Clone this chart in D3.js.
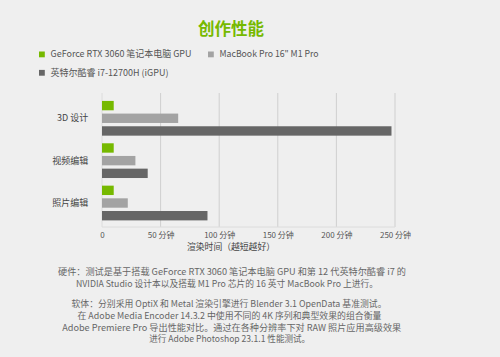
<!DOCTYPE html>
<html><head><meta charset="utf-8">
<script src="https://cdn.jsdelivr.net/npm/d3@7"></script>
<style>
html,body{margin:0;padding:0;background:#efefef;}
svg{display:block;font-family:"Noto Sans CJK SC","Noto Sans",sans-serif;}
</style></head><body>
<svg id="c" width="500" height="357"></svg>
<script>
const categories = ["3D 设计", "视频编辑", "照片编辑"];
const seriesNames = ["GeForce RTX 3060 笔记本电脑 GPU", "MacBook Pro 16\" M1 Pro", "英特尔酷睿 i7-12700H (iGPU)"];
const rtx3060 = [10, 10, 10];
const m1pro = [65, 28.5, 22];
const i7igpu = [247, 39, 90];
const tickValues = [0, 50, 100, 150, 200, 250];
const tickLabels = ["0", "50 分钟", "100 分钟", "150 分钟", "200 分钟", "250 分钟"];
const colors = ["#76b900", "#a3a3a3", "#666666"];
const footnotes = [
  "硬件：测试是基于搭载 GeForce RTX 3060 笔记本电脑 GPU 和第 12 代英特尔酷睿 i7 的",
  "NVIDIA Studio 设计本以及搭载 M1 Pro 芯片的 16 英寸 MacBook Pro 上进行。",
  "软体：分别采用 OptiX 和 Metal 渲染引擎进行 Blender 3.1 OpenData 基准测试。",
  "在 Adobe Media Encoder 14.3.2 中使用不同的 4K 序列和典型效果的组合衡量",
  "Adobe Premiere Pro 导出性能对比。通过在各种分辨率下对 RAW 照片应用高级效果",
  "进行 Adobe Photoshop 23.1.1 性能测试。"
];

const series = [rtx3060, m1pro, i7igpu];
const svg = d3.select("#c");

// title
svg.append("text").attr("x", 231).attr("y", 29).attr("dy", "0.36em").attr("text-anchor", "middle")
  .attr("font-size", 16.5).attr("font-weight", "bold").attr("fill", "#76b900").text("创作性能");

// legend
const legendPos = [[39, 54.3], [208, 54.3], [39, 72.7]];
const legendW = [141, 99, 118];
seriesNames.forEach((n, i) => {
  const g = svg.append("g").attr("transform", `translate(${legendPos[i][0]},${legendPos[i][1]})`);
  g.append("rect").attr("x", 0).attr("y", -2.8).attr("width", 5.8).attr("height", 5.8).attr("fill", colors[i]);
  g.append("text").attr("x", 11.5).attr("y", 0).attr("dy", "0.35em").attr("font-size", 9)
    .attr("textLength", legendW[i]).attr("lengthAdjust", "spacingAndGlyphs")
    .attr("fill", "#555").text(n);
});

const x = d3.scaleLinear().domain([0, 250]).range([102, 395]);
const y = d3.scaleBand().domain(categories).range([97.1, 224.2]).paddingInner(0.18).paddingOuter(0.09);
const ySub = d3.scaleBand().domain([0, 1, 2]).range([0, y.bandwidth()]).paddingInner(0.26);

// grid
const gridTop = 93, gridBottom = 227;
svg.append("g").selectAll("line").data(tickValues).join("line")
  .attr("x1", d => x(d)).attr("x2", d => x(d)).attr("y1", gridTop).attr("y2", gridBottom)
  .attr("stroke", d => d === 0 ? "#dcdcdc" : "#cfcfcf").attr("stroke-width", 1);
svg.append("line").attr("x1", x(0)).attr("x2", x(250)).attr("y1", gridBottom).attr("y2", gridBottom)
  .attr("stroke", "#dcdcdc");

// bars
categories.forEach((c, ci) => {
  series.forEach((s, si) => {
    svg.append("rect").attr("x", x(0)).attr("y", y(c) + ySub(si))
      .attr("width", x(s[ci]) - x(0)).attr("height", ySub.bandwidth()).attr("fill", colors[si]);
  });
});

// category labels
svg.append("g").selectAll("text").data(categories).join("text")
  .attr("x", 88.3).attr("y", d => y(d) + y.bandwidth() / 2)
  .attr("dy", "0.35em").attr("text-anchor", "end").attr("font-size", 9).attr("fill", "#444").text(d => d);

// x axis
const xAxis = d3.axisBottom(x).tickValues(tickValues).tickFormat((d, i) => tickLabels[i]).tickSize(0).tickPadding(0);
const ax = svg.append("g").attr("transform", `translate(0,${235})`).call(xAxis);
ax.select(".domain").remove();
ax.selectAll("text").attr("font-size", 8).attr("fill", "#555").attr("dy", "0.35em").attr("y", 0)
  .style("font-family", '"Noto Sans CJK SC","Noto Sans",sans-serif');

svg.append("text").attr("x", 231).attr("y", 247.3).attr("dy", "0.35em").attr("text-anchor", "middle")
  .attr("font-size", 9).attr("textLength", 88).attr("lengthAdjust", "spacingAndGlyphs")
  .attr("fill", "#444").text("渲染时间（越短越好）");

// footnotes
const fy = [272.3, 283.5, 304.2, 315.8, 327.5, 338.8];
const fx = [232, 227, 229, 229.5, 231.7, 229.7];
const fw = [348, 302, 315, 304, 339, 161];
svg.append("g").selectAll("text").data(footnotes).join("text")
  .attr("x", (d, i) => fx[i]).attr("y", (d, i) => fy[i]).attr("dy", "0.35em").attr("text-anchor", "middle")
  .attr("font-size", 8.6).attr("textLength", (d, i) => fw[i]).attr("lengthAdjust", "spacingAndGlyphs")
  .attr("fill", "#666").text(d => d);
</script>
</body></html>
